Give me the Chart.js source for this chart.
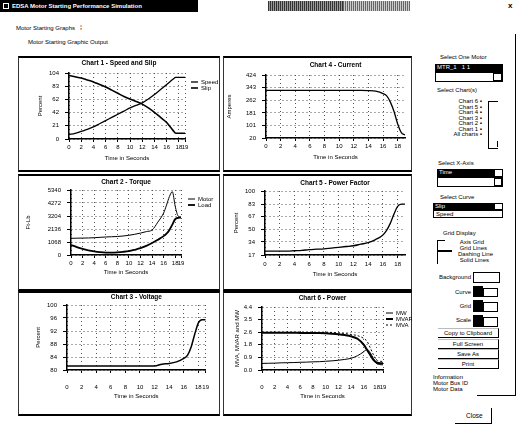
<!DOCTYPE html>
<html>
<head>
<meta charset="utf-8">
<script src="https://cdn.jsdelivr.net/npm/chart.js@4.4.0/dist/chart.umd.min.js"></script>
<style>
  html, body { margin: 0; padding: 0; background: #fff; }
  body { width: 519px; height: 432px; position: relative; overflow: hidden;
         font-family: "Liberation Sans", Arial, sans-serif; font-size: 6px; color: #000; }
  .t { position: absolute; white-space: nowrap; font-size: 6px; line-height: 7px; }
  .r { text-align: right; }
  .b { font-weight: bold; }
  .bar { position: absolute; background: #000; color: #fff; font-size: 6px; line-height: 7px; padding-left: 2px; box-sizing: border-box; }
  .box { position: absolute; border: 1px solid #000; background: #fff; box-sizing: border-box; }
  .blk { position: absolute; background: #000; }
  .btn { position: absolute; border-right: 1px solid #000; border-bottom: 1px solid #000; border-top: 1px solid #bbb;
         box-sizing: border-box; text-align: center; font-size: 6px; line-height: 8px; }
  .panel { position: absolute; border: 1px solid #333; border-top: 2px solid #000; border-bottom: 2px solid #000; box-sizing: border-box; }
  canvas { position: absolute; }
</style>
</head>
<body>

<!-- title bar -->
<div class="bar b" style="left:0;top:0;width:198px;height:12px;line-height:12px;padding-left:12px;">EDSA Motor Starting Performance Simulation</div>
<div class="box" style="left:3px;top:3px;width:6px;height:6px;border-color:#fff;background:#000;"></div>
<div style="position:absolute;left:268px;top:1px;width:75px;height:10px;background:repeating-linear-gradient(90deg,#333 0 1px,#999 1px 2px);"></div>
<div style="position:absolute;left:343px;top:1px;width:67px;height:10px;background:repeating-linear-gradient(90deg,#666 0 1px,#ccc 1px 2px);"></div>
<div class="t b" style="left:508px;top:2px;font-size:8px;">x</div>

<div class="t" style="left:16px;top:25px;">Motor Starting Graphs</div>
<div class="t" style="left:80px;top:24px;font-size:7px;">⁞</div>
<div class="t" style="left:28px;top:39px;">Motor Starting Graphic Output</div>

<!-- chart panels -->
<div class="panel" style="left:18px;top:56px;width:202px;height:116px;"></div>
<div class="panel" style="left:223px;top:56px;width:189px;height:116px;"></div>
<div class="panel" style="left:18px;top:174px;width:202px;height:117px;"></div>
<div class="panel" style="left:223px;top:174px;width:189px;height:117px;"></div>
<div class="panel" style="left:18px;top:291px;width:202px;height:125px;"></div>
<div class="panel" style="left:223px;top:291px;width:189px;height:125px;"></div>

<canvas id="c1"></canvas>
<canvas id="c4"></canvas>
<canvas id="c2"></canvas>
<canvas id="c5"></canvas>
<canvas id="c3"></canvas>
<canvas id="c6"></canvas>

<!-- right control panel -->
<div style="position:absolute;left:515px;top:34px;width:1px;height:362px;background:#000;"></div>
<div style="position:absolute;left:477px;top:395px;width:39px;height:1px;background:#000;"></div>

<div class="t" style="left:440px;top:54px;">Select One Motor</div>
<div class="bar" style="left:435px;top:64px;width:68px;height:8px;">MTR_1 &nbsp; 1 1</div>
<div class="box" style="left:435px;top:72px;width:68px;height:10px;"></div>
<div class="box" style="left:493px;top:73px;width:9px;height:8px;"></div>

<div class="t" style="left:437px;top:87px;">Select Chart(s)</div>
<div class="t r" style="left:440px;top:99px;width:42px;line-height:5.5px;">Chart 6 ▪<br>Chart 5 ▪<br>Chart 4 ▪<br>Chart 3 ▪<br>Chart 2 ▪<br>Chart 1 ▪<br>All charts ▪</div>
<div style="position:absolute;left:488px;top:101px;width:9px;height:46px;border:1px solid #000;border-right:none;"></div>
<div style="position:absolute;left:497px;top:141px;width:1px;height:6px;background:#000;"></div>

<div class="t" style="left:438px;top:160px;">Select X-Axis</div>
<div class="bar" style="left:437px;top:169px;width:66px;height:8px;">Time</div>
<div class="box" style="left:494px;top:169px;width:9px;height:8px;"></div>
<div class="box" style="left:437px;top:177px;width:66px;height:10px;"></div>
<div class="box" style="left:494px;top:178px;width:8px;height:8px;"></div>

<div class="t" style="left:440px;top:194px;">Select Curve</div>
<div class="bar" style="left:433px;top:203px;width:70px;height:7px;">Slip</div>
<div class="box" style="left:433px;top:210px;width:70px;height:8px;padding-left:2px;font-size:6px;line-height:6px;">Speed</div>
<div class="box" style="left:494px;top:203px;width:9px;height:7px;"></div>

<div class="t" style="left:443px;top:230px;">Grid Display</div>
<div style="position:absolute;left:437px;top:240px;width:1px;height:24px;background:#000;"></div>
<div style="position:absolute;left:437px;top:240px;width:8px;height:1px;background:#000;"></div>
<div style="position:absolute;left:438px;top:250px;width:14px;height:2px;background:#000;"></div>
<div class="t" style="left:458px;top:239px;line-height:6px;">&nbsp;Axis Grid<br>&nbsp;Grid Lines<br>Dashing Line<br>&nbsp;Solid Lines</div>

<div class="t r" style="left:420px;top:274px;width:51px;">Background</div>
<div class="box" style="left:473px;top:272px;width:27px;height:11px;"></div>
<div class="t r" style="left:420px;top:289px;width:51px;">Curve</div>
<div class="blk" style="left:473px;top:286px;width:10px;height:11px;"></div>
<div class="box" style="left:483px;top:288px;width:15px;height:9px;"></div>
<div class="t r" style="left:420px;top:303px;width:51px;">Grid</div>
<div class="blk" style="left:473px;top:300px;width:10px;height:12px;"></div>
<div class="box" style="left:483px;top:302px;width:15px;height:10px;"></div>
<div class="t r" style="left:420px;top:317px;width:51px;">Scale</div>
<div class="blk" style="left:473px;top:315px;width:10px;height:12px;"></div>
<div class="box" style="left:483px;top:317px;width:15px;height:10px;"></div>

<div class="btn" style="left:438px;top:328px;width:61px;height:10px;">Copy to Clipboard</div>
<div class="btn" style="left:438px;top:339px;width:61px;height:10px;">Full Screen</div>
<div class="btn" style="left:438px;top:349px;width:61px;height:10px;">Save As</div>
<div class="btn" style="left:438px;top:359px;width:61px;height:10px;">Print</div>

<div class="t" style="left:433px;top:374px;line-height:6px;">Information<br>Motor Bus ID<br>Motor Data</div>

<div class="t" style="left:466px;top:412px;font-size:6.5px;">Close</div>
<div style="position:absolute;left:455px;top:423px;width:37px;height:1px;background:#000;"></div>
<div style="position:absolute;left:491px;top:408px;width:1px;height:16px;background:#000;"></div>

<script>
// time axis (seconds) shared by every chart
const time = [0, 1, 2, 3, 4, 5, 6, 7, 8, 9, 10, 11, 12, 13, 14, 15, 16, 16.5, 17, 17.5, 18, 18.5, 19];
const xTicksLong = [0, 2, 4, 6, 8, 10, 12, 14, 16, 18, 19];
const xTicksShort = [0, 2, 4, 6, 8, 10, 12, 14, 16, 18];

// Chart 1 - Speed and Slip (%)
const speed = [7, 9, 12, 15, 19, 24, 29, 34, 39, 44, 49, 53, 57, 63, 70, 78, 86, 90, 94, 97, 97, 97, 97];
const slip = [100, 98, 96, 93, 90, 86, 82, 77, 72, 67, 63, 59, 55, 49, 42, 34, 26, 20, 14, 9, 9, 9, 9];
const yTicksSpeed = [0, 21, 42, 62, 83, 104];

// Chart 2 - Torque (Ft-Lb)
const motorTorque = [1370, 1380, 1390, 1400, 1420, 1450, 1480, 1500, 1520, 1560, 1620, 1700, 1800, 1920, 2050, 2700, 3450, 4100, 4800, 5200, 4000, 3200, 3100];
const loadTorque = [820, 650, 500, 380, 290, 230, 200, 200, 220, 260, 320, 430, 560, 750, 980, 1250, 1550, 1750, 2050, 2500, 2950, 3050, 3070];
const yTicksTorque = [0, 1068, 2136, 3204, 4272, 5340];

// Chart 3 - Voltage (%)
const voltage = [81.2, 81.2, 81.2, 81.2, 81.2, 81.2, 81.2, 81.2, 81.2, 81.2, 81.2, 81.2, 81.2, 81.8, 82, 82.5, 83.6, 84.5, 87, 91, 94.5, 95.5, 95.5];
const yTicksVoltage = [80, 84, 88, 92, 96, 100];

// Chart 4 - Current (A)
const current = [325, 325, 325, 325, 325, 325, 325, 325, 325, 325, 325, 325, 325, 325, 324, 320, 305, 290, 250, 190, 110, 55, 40];
const yTicksCurrent = [20, 101, 181, 262, 343, 424];

// Chart 5 - Power Factor (%)
const powerFactor = [22, 22, 22, 22, 22.5, 23, 24, 24.5, 25, 26, 27, 28, 29, 31, 33, 37, 43, 49, 58, 70, 80, 83, 83];
const yTicksPf = [17, 34, 50, 67, 83, 100];

// Chart 6 - Power
const mw = [0.46, 0.47, 0.48, 0.5, 0.51, 0.52, 0.54, 0.55, 0.57, 0.58, 0.61, 0.64, 0.68, 0.74, 0.82, 1.0, 1.28, 1.45, 1.2, 0.8, 0.45, 0.38, 0.36];
const mvar = [2.6, 2.6, 2.6, 2.6, 2.6, 2.6, 2.59, 2.59, 2.58, 2.58, 2.57, 2.54, 2.5, 2.44, 2.35, 2.18, 1.75, 1.4, 1.05, 0.7, 0.52, 0.48, 0.47];
const mva = [2.65, 2.65, 2.65, 2.65, 2.65, 2.65, 2.65, 2.65, 2.64, 2.64, 2.64, 2.62, 2.59, 2.55, 2.48, 2.4, 2.2, 2.0, 1.55, 1.06, 0.68, 0.61, 0.6];
const yTicksPower = [0, 0.88, 1.76, 2.64, 3.52, 4.4];

const FONT = '"Liberation Sans", Arial, sans-serif';
Chart.defaults.font.family = FONT;
Chart.defaults.font.size = 6;
Chart.defaults.color = '#000';

function series(label, values, width, dash) {
    return {
        label: label,
        data: values.map((v, i) => ({ x: time[i], y: v })),
        borderColor: '#000',
        borderWidth: width,
        borderDash: dash || [],
        pointRadius: 0,
        cubicInterpolationMode: 'monotone',
        fill: false
    };
}

// title above the plot and small legend beside it
const panelText = {
    id: 'panelText',
    afterDraw(chart, args, opts) {
        const ctx = chart.ctx, area = chart.chartArea;
        ctx.save();
        ctx.fillStyle = '#000';
        ctx.textBaseline = 'middle';
        ctx.font = 'bold 6.5px ' + FONT;
        ctx.textAlign = 'center';
        ctx.fillText(opts.title, (area.left + area.right) / 2 + (opts.titleShift || 0), area.top - opts.titleGap);
        if (opts.legend) {
            ctx.font = '6px ' + FONT;
            ctx.textAlign = 'left';
            chart.data.datasets.forEach((ds, i) => {
                const x = area.right + opts.legend.left;
                const y = area.top + opts.legend.top + i * 6;
                ctx.strokeStyle = ds.borderColor;
                ctx.lineWidth = ds.borderWidth;
                ctx.setLineDash(ds.borderDash);
                ctx.beginPath();
                ctx.moveTo(x, y);
                ctx.lineTo(x + 7, y);
                ctx.stroke();
                ctx.fillText(ds.label, x + 10, y);
            });
        }
        ctx.restore();
    }
};

function buildChart(id, box, plot, o) {
    const canvas = document.getElementById(id);
    canvas.width = box.w;
    canvas.height = box.h;
    canvas.style.left = box.x + 'px';
    canvas.style.top = box.y + 'px';

    const padL = o.yTitleX - box.x - 3.6;
    const padB = box.y + box.h - (o.xTitleY + 3.6);
    const yWidth = plot.x1 - box.x - padL;
    const xHeight = o.xTitleY + 3.6 - plot.y2;

    new Chart(canvas, {
        type: 'line',
        data: { datasets: o.datasets },
        options: {
            responsive: false,
            animation: false,
            layout: { padding: { left: padL, right: box.x + box.w - plot.x2, top: plot.y1 - box.y, bottom: padB } },
            plugins: {
                legend: { display: false },
                tooltip: { enabled: false },
                panelText: { title: o.title, titleGap: o.titleGap, titleShift: o.titleShift, legend: o.legend }
            },
            scales: {
                x: {
                    type: 'linear', min: 0, max: 19,
                    afterBuildTicks: s => { s.ticks = o.xTicks.map(v => ({ value: v })); },
                    afterFit: s => { s.height = xHeight; },
                    ticks: { padding: o.xTickPad, maxRotation: 0, autoSkip: false },
                    grid: { color: '#555', tickColor: '#000', tickLength: 3 },
                    border: { color: '#000', width: 1.5, dash: [1, 3] },
                    title: { display: true, text: 'Time in Seconds', padding: { top: 0, bottom: 0 } }
                },
                y: {
                    min: o.yTicks[0], max: o.yTicks[o.yTicks.length - 1],
                    afterBuildTicks: s => { s.ticks = o.yTicks.map(v => ({ value: v })); },
                    afterFit: s => { s.width = yWidth; },
                    ticks: { padding: 6, callback: o.yFormat || (v => v) },
                    grid: { color: '#555', tickColor: '#000', tickLength: 4 },
                    border: { color: '#000', width: 1.5, dash: [1, 3] },
                    title: { display: true, text: o.yTitle, padding: { top: 0, bottom: 0 } }
                }
            }
        },
        plugins: [panelText]
    });
}

buildChart('c1', { x: 18, y: 57, w: 202, h: 114 }, { x1: 69, x2: 185, y1: 73, y2: 139 }, {
    title: 'Chart 1 - Speed and Slip', titleGap: 10, titleShift: -8,
    yTitle: 'Percent', yTitleX: 40, xTitleY: 158, xTickPad: 2,
    xTicks: xTicksLong, yTicks: yTicksSpeed,
    legend: { left: 6, top: 9 },
    datasets: [series('Speed', speed, 1.3), series('Slip', slip, 1.6)]
});

buildChart('c4', { x: 223, y: 57, w: 189, h: 114 }, { x1: 266, x2: 405, y1: 75, y2: 138 }, {
    title: 'Chart 4 - Current', titleGap: 10,
    yTitle: 'Amperes', yTitleX: 229, xTitleY: 157, xTickPad: 2,
    xTicks: xTicksShort, yTicks: yTicksCurrent,
    datasets: [series('Current', current, 1.3)]
});

buildChart('c2', { x: 18, y: 175, w: 202, h: 115 }, { x1: 71, x2: 181, y1: 190, y2: 255 }, {
    title: 'Chart 2 - Torque', titleGap: 8,
    yTitle: 'Ft-Lb', yTitleX: 28, xTitleY: 272, xTickPad: 2,
    xTicks: xTicksLong, yTicks: yTicksTorque, yFormat: v => Math.round(v),
    legend: { left: 7, top: 9 },
    datasets: [series('Motor', motorTorque, 1), series('Load', loadTorque, 1.8)]
});

buildChart('c5', { x: 223, y: 175, w: 189, h: 115 }, { x1: 265, x2: 405, y1: 191, y2: 255 }, {
    title: 'Chart 5 - Power Factor', titleGap: 8,
    yTitle: 'Percent', yTitleX: 236, xTitleY: 274, xTickPad: 3,
    xTicks: xTicksShort, yTicks: yTicksPf,
    datasets: [series('Power Factor', powerFactor, 1.3)]
});

buildChart('c3', { x: 18, y: 292, w: 202, h: 122 }, { x1: 67, x2: 209, y1: 305, y2: 370 }, {
    title: 'Chart 3 - Voltage', titleGap: 8,
    yTitle: 'Percent', yTitleX: 38, xTitleY: 396, xTickPad: 11,
    xTicks: xTicksLong, yTicks: yTicksVoltage,
    datasets: [series('Voltage', voltage, 1.5)]
});

buildChart('c6', { x: 223, y: 292, w: 189, h: 122 }, { x1: 262, x2: 383, y1: 307, y2: 370 }, {
    title: 'Chart 6 - Power', titleGap: 9,
    yTitle: 'MVA, MVAR and MW', yTitleX: 237, xTitleY: 396, xTickPad: 11,
    xTicks: xTicksLong, yTicks: yTicksPower, yFormat: v => v.toFixed(1),
    legend: { left: 3, top: 6 },
    datasets: [series('MW', mw, 1), series('MVAR', mvar, 2), series('MVA', mva, 1, [2, 2])]
});
</script>
</body>
</html>
